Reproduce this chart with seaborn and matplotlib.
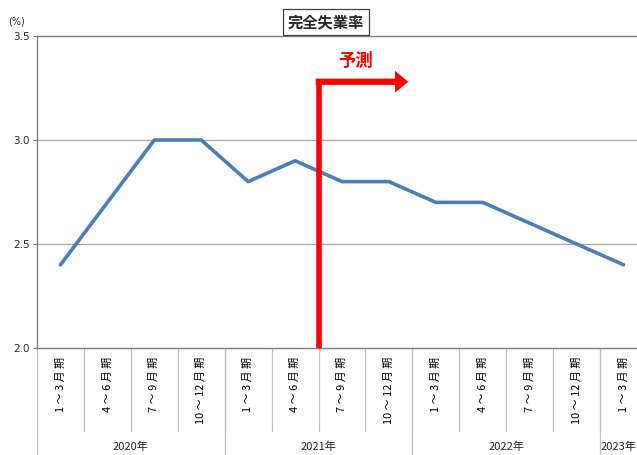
import matplotlib
matplotlib.use("Agg")
import matplotlib.pyplot as plt
import matplotlib.transforms as mtransforms
from matplotlib.patches import FancyArrow
import seaborn as sns
import pandas as pd

# Quarterly unemployment rate (%), 2020 Q1 – 2023 Q1
quarters = ["1～3月期", "4～6月期", "7～9月期", "10～12月期",
            "1～3月期", "4～6月期", "7～9月期", "10～12月期",
            "1～3月期", "4～6月期", "7～9月期", "10～12月期",
            "1～3月期"]
rates = [2.4, 2.7, 3.0, 3.0, 2.8, 2.9, 2.8, 2.8, 2.7, 2.7, 2.6, 2.5, 2.4]
years = ["2020年", "2021年", "2022年", "2023年"]
quarters_per_year = [4, 4, 4, 1]
yticks = [2.0, 2.5, 3.0, 3.5]
forecast_start = 5.5        # boundary between actual and forecast quarters
forecast_label = "予測"
title = "完全失業率"

df = pd.DataFrame({"pos": range(len(rates)), "rate": rates})

sns.set_style("white")
plt.rcParams["font.family"] = ["Noto Sans CJK JP", "DejaVu Sans"]

fig = plt.figure(figsize=(6.37, 4.55), dpi=100)
# plot area runs a little past the right edge of the figure
ax = fig.add_axes([37 / 637, 1 - 348 / 455, 610 / 637, 312 / 455])

sns.lineplot(data=df, x="pos", y="rate", ax=ax, color="#4A7EBB",
             linewidth=2.6, solid_capstyle="round", zorder=3)

ax.set_xlim(-0.5, len(rates) - 0.5)
ax.set_ylim(2.0, 3.5)
ax.set_xlabel("")
ax.set_ylabel("")

# horizontal grid lines
for v in yticks[1:-1]:
    ax.axhline(v, color="#A6A6A6", linewidth=0.9, zorder=1)

for side in ["left", "bottom", "top"]:
    ax.spines[side].set_color("#7F7F7F")
    ax.spines[side].set_linewidth(1.0)
ax.spines["right"].set_visible(False)

ax.set_yticks(yticks)
ax.set_yticklabels([f"{v:.1f}" for v in yticks],
                   family=["Liberation Sans Narrow", "DejaVu Sans"], fontsize=7.5)
ax.tick_params(axis="y", length=3, width=0.8, color="#7F7F7F", pad=2, left=True)
ax.set_xticks([])

ax.text(-0.034, 1.03, "(%)", transform=ax.transAxes, ha="center", va="bottom",
        fontsize=7, family=["Liberation Sans Narrow", "DejaVu Sans"])

# category axis: quarter labels and separators below the plot
bt = mtransforms.blended_transform_factory(ax.transData, ax.transAxes)
for i, q in enumerate(quarters):
    spaced = " ".join(list(q.replace("10", "\u2007").replace("12", "\u2008")))
    spaced = spaced.replace("\u2007", "10").replace("\u2008", "12")
    ax.text(i, -0.028, spaced, transform=bt, rotation=90, ha="center", va="top",
            fontsize=7.9, color="#000000")
for k in range(1, len(quarters)):
    ax.plot([k - 0.5, k - 0.5], [0, -0.265], transform=bt, color="#BFBFBF",
            linewidth=0.9, clip_on=False)

# year group labels; the last group is only partly inside the figure,
# so its label is pinned to the right edge
fig_x = mtransforms.blended_transform_factory(fig.transFigure, ax.transAxes)
start = -0.5
for j, (y, n) in enumerate(zip(years, quarters_per_year)):
    end = start + n
    ax.plot([start, start], [0, -0.36], transform=bt, color="#BFBFBF",
            linewidth=0.9, clip_on=False)
    if j == len(years) - 1:
        ax.text(636 / 637, -0.318, y, transform=fig_x, ha="right", va="center",
                fontsize=8, family=["Liberation Sans Narrow", "Noto Sans CJK JP"])
    else:
        ax.text((start + end) / 2, -0.318, y, transform=bt, ha="center",
                va="center", fontsize=8,
                family=["Liberation Sans Narrow", "Noto Sans CJK JP"])
    start = end

# forecast marker
arrow_y = 3.28
ax.plot([forecast_start, forecast_start], [2.0, arrow_y + 0.014], color="#FF0000",
        linewidth=4.0, solid_capstyle="butt", zorder=4)
ax.add_patch(FancyArrow(forecast_start - 0.06, arrow_y, 1.69, 0, width=0.03,
                        head_width=0.105, head_length=0.28,
                        length_includes_head=False, color="#FF0000",
                        linewidth=0, zorder=4))
ax.text(6.28, 3.378, forecast_label, color="#FF0000", fontsize=12.5,
        fontweight="bold", ha="center", va="center")

# boxed title
fig.text(326 / 637, 1 - 22 / 455, title, ha="center", va="center",
         fontsize=11, fontweight="bold",
         bbox=dict(boxstyle="square,pad=0.35", facecolor="white",
                   edgecolor="#404040", linewidth=0.9))

fig.savefig("out.png", dpi=100)
